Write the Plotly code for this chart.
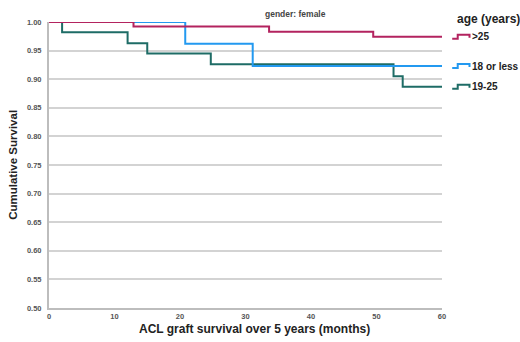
import plotly.graph_objects as go

# ---- data ----
groups = [">25", "18 or less", "19-25"]
colors = {">25": "#B3235F", "18 or less": "#2399F0", "19-25": "#1E6C66"}

time_gt25 = [0, 12.9, 33.6, 49.5, 60]
surv_gt25 = [1.0, 0.992, 0.983, 0.974, 0.974]

time_le18 = [0, 20.8, 31.1, 60]
surv_le18 = [1.0, 0.962, 0.923, 0.923]

time_19_25 = [0, 2.0, 12.0, 15.0, 24.7, 52.6, 54.0, 60]
surv_19_25 = [1.0, 0.982, 0.963, 0.945, 0.926, 0.905, 0.887, 0.887]

y_ticks = [0.50, 0.55, 0.60, 0.65, 0.70, 0.75, 0.80, 0.85, 0.90, 0.95, 1.00]
x_ticks = [0, 10, 20, 30, 40, 50, 60]

series = {
    ">25": (time_gt25, surv_gt25),
    "18 or less": (time_le18, surv_le18),
    "19-25": (time_19_25, surv_19_25),
}

FONT = "Liberation Sans, Arial, sans-serif"

fig = go.Figure()
# draw order: green, blue, red on top
for name in ["19-25", "18 or less", ">25"]:
    t, s = series[name]
    fig.add_trace(go.Scatter(
        x=t, y=s, mode="lines", name=name,
        line=dict(color=colors[name], width=2, shape="hv"),
        cliponaxis=False, showlegend=False, hoverinfo="skip",
    ))

# legend-like labels placed at each curve's final value (SPSS style)
icon_x0, icon_x1, icon_x2 = 1.026, 1.040, 1.070
step_h = 0.007
for name in groups:
    t, s = series[name]
    yv = s[-1]
    fig.add_shape(
        type="path", xref="paper", yref="y",
        path=f"M {icon_x0},{yv - step_h/2} L {icon_x1},{yv - step_h/2} L {icon_x1},{yv + step_h/2} "
             f"L {icon_x2},{yv + step_h/2} L {icon_x2},{yv - step_h/4}",
        line=dict(color=colors[name], width=2),
    )
    fig.add_annotation(
        x=1.072, xref="paper", y=yv, yref="y", text=name, showarrow=False,
        xanchor="left", yanchor="middle",
        font=dict(family=FONT, size=10, color="#222222", weight="bold"),
    )

fig.add_annotation(
    x=1.033, xref="paper", y=1.009, yref="paper", text="age (years)", showarrow=False,
    xanchor="left", yanchor="middle",
    font=dict(family=FONT, size=12, color="#222222", weight="bold"),
)
fig.add_annotation(
    x=0.628, xref="paper", y=1.028, yref="paper", text="gender: female", showarrow=False,
    xanchor="center", yanchor="middle",
    font=dict(family=FONT, size=8.5, color="#444444", weight="bold"),
)
fig.add_annotation(
    x=0.523, xref="paper", y=-0.074, yref="paper",
    text="ACL graft survival over 5 years (months)", showarrow=False,
    xanchor="center", yanchor="middle", borderpad=0,
    font=dict(family=FONT, size=12, color="#222222", weight="bold"),
)
fig.add_annotation(
    x=-0.092, xref="paper", y=0.5, yref="paper",
    text="Cumulative Survival", showarrow=False, textangle=-90,
    xanchor="center", yanchor="middle",
    font=dict(family=FONT, size=11.5, color="#222222", weight="bold"),
)

fig.update_layout(
    width=520, height=342,
    margin=dict(l=49, r=78, t=22, b=34),
    paper_bgcolor="white", plot_bgcolor="white",
    showlegend=False,
    font=dict(family=FONT),
)
fig.update_xaxes(
    range=[0, 60], tickvals=x_ticks, ticktext=[str(v) for v in x_ticks],
    showgrid=False, zeroline=False, showline=True, linecolor="#BDBDBD", linewidth=2,
    ticks="", ticklabelstandoff=0,
    tickfont=dict(family=FONT, size=7.5, color="#555555", weight="bold"),
)
fig.update_yaxes(
    range=[0.5, 1.0], tickvals=y_ticks, ticktext=[f"{v:.2f}" for v in y_ticks],
    showgrid=True, gridcolor="#D3D3D3", gridwidth=1.5,
    zeroline=False, showline=True, linecolor="#BDBDBD", linewidth=2,
    ticks="", ticklabelstandoff=4,
    tickfont=dict(family=FONT, size=7.5, color="#555555", weight="bold"),
)

fig.write_html(
    "out.html",
    config={"displayModeBar": False},
    post_script="document.body.style.margin='0';document.body.style.overflow='hidden';",
)
